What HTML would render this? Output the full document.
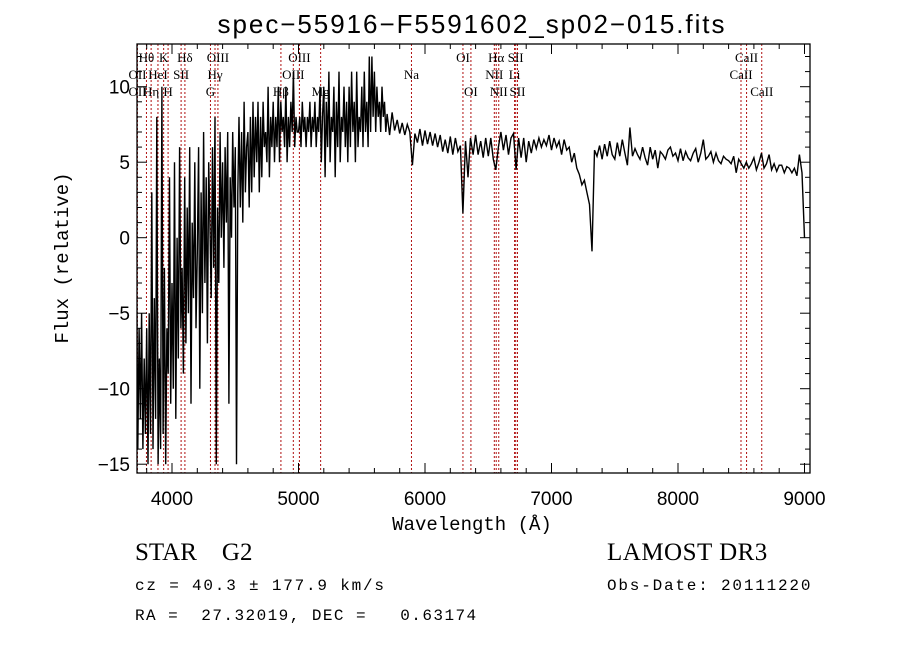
<!DOCTYPE html>
<html><head><meta charset="utf-8"><style>
html,body{margin:0;padding:0;background:#fff;width:900px;height:649px;overflow:hidden}
svg{display:block}
</style></head><body>
<svg id="chart" width="900" height="649" viewBox="0 0 900 649" xmlns="http://www.w3.org/2000/svg">
<defs><clipPath id="pc"><rect x="137" y="44" width="673" height="429"/></clipPath></defs>
<rect width="900" height="649" fill="#fff"/>
<text x="472" y="33" font-family="Liberation Sans, sans-serif" font-size="26" letter-spacing="1.95" text-anchor="middle">spec−55916−F5591602_sp02−015.fits</text>
<g id="lines" clip-path="url(#pc)"></g>
<g id="labels" font-family="Liberation Serif, serif" font-size="13" text-anchor="middle"></g>
<polyline id="spec" clip-path="url(#pc)" fill="none" stroke="#000" stroke-width="1.4"/>
<g id="axes"></g>
<text x="472" y="530" font-family="Liberation Mono, monospace" font-size="19" text-anchor="middle">Wavelength (Å)</text>
<text transform="translate(68,258) rotate(-90)" font-family="Liberation Mono, monospace" font-size="19" text-anchor="middle">Flux (relative)</text>
<text x="135" y="560" font-family="Liberation Serif, serif" font-size="25" xml:space="preserve">STAR    G2</text>
<text x="607" y="560" font-family="Liberation Serif, serif" font-size="25" letter-spacing="0.5">LAMOST DR3</text>
<text x="135" y="590" font-family="Liberation Mono, monospace" font-size="16" letter-spacing="1.8" xml:space="preserve">cz = 40.3 ± 177.9 km/s</text>
<text x="607" y="590" font-family="Liberation Mono, monospace" font-size="16" letter-spacing="1.8">Obs-Date: 20111220</text>
<text x="135" y="620" font-family="Liberation Mono, monospace" font-size="16" letter-spacing="1.45" xml:space="preserve">RA =  27.32019, DEC =   0.63174</text>
</svg>
<script>
const blueStart = 3700, blueStep = 10;
const blueFlux = [-4,-13,-2,-14,-6,-12,-5,-14,-8,-13,
-6,-15,-5,-13,3,-14,-4,-12,8,-15,
-8,-14,10,-13,-2,-15,-6,-9,4,-11,
-3,-10,5,-12,0,-8,6,-6,-2,-9,
4,-7,2,-5,6,-11,1,-4,5,-6,
-1,6,-10,3,-5,7,-3,4,-7,5,
1,-4,6,-2,8,-15,2,-3,7,0,
5,-2,6,1,7,-11,4,0,7,2,
6,-15,3,8,2,7,1,9,3,6,
7,2,8,3,9,4,8,5,9,3,
8,4,9,6,7,5,10,4,8,6,
9,5,8,6,10,5,9,7,8,6,
10,5,8,6,9,7,11,6,8,7,
7,8,6,9,7,8,6,8,7,9,
6,8,7,9,6,8,7,10,5,8,
10,4,9,6,11,5,8,7,10,4,
9,6,11,5,8,7,10,6,9,5,
10,6,11,7,9,5,11,6,8,7,
10,6,11,7,9,6,12,7,12,8,
11,7,10,8,9,7,10,8,9,7];
const redStart = 5700, redStep = 20;
const redFlux = [8.2,6.8,8.3,7.1,7.8,6.9,7.6,6.8,7.5,7.0,
4.8,6.9,6.3,7.2,6.1,7.1,6.2,7.0,6.1,6.9,
6.0,6.8,5.7,6.5,5.6,6.7,5.5,6.6,5.7,6.1,
1.6,6.4,4.0,6.6,5.5,6.8,5.5,6.4,5.3,6.6,
5.4,6.6,5.2,4.5,6.0,7.0,5.8,6.8,5.5,6.6,
6.9,4.5,6.6,5.3,6.6,5.0,6.4,5.6,6.5,5.9,
6.6,6.0,6.5,6.1,6.8,5.8,6.6,6.0,6.4,5.5,
6.5,5.8,6.0,5.0,5.6,4.6,4.2,3.5,3.8,3.0,
2.2,-0.9,5.8,5.4,6.1,5.2,6.2,5.4,6.4,5.5,
5.2,6.3,5.4,6.5,5.6,4.8,7.3,5.4,5.9,5.5,
5.2,6.0,5.3,4.8,6.0,5.2,5.8,4.6,5.7,5.5,
5.2,5.8,6.0,5.4,5.6,5.1,5.9,5.1,5.7,5.3,
5.1,5.6,5.9,5.0,5.6,6.5,5.2,5.4,5.7,5.0,
5.6,5.1,4.9,5.4,5.2,5.1,4.9,5.4,4.3,5.2,
4.9,4.6,5.0,4.6,4.9,5.3,4.5,5.0,5.6,4.6,
4.9,5.5,4.5,4.9,4.4,4.8,4.8,4.3,4.7,4.6,
4.3,4.6,4.1,5.5,4.3,0];
const lineWaves = [3727,3798,3835,3889,3934,3969,4072,4102,4304,4340,4363,4861,4959,5007,5175,5893,6300,6363,6548,6563,6583,6708,6717,6731,8498,8542,8662];
const labelNames = ["Hθ","K","Hδ","OIII","OIII","OI","Hα","SII","CaII",
"OII","HeI","SII","Hγ","OIII","Na","NII","Li","CaII",
"OII","Hη","H","G","Hβ","Mg","OI","NII","SII","CaII"];
const labelWaves = [3798,3934,4102,4363,5007,6300,6563,6717,8542,
3727,3889,4072,4340,4959,5893,6548,6708,8498,
3727,3835,3969,4304,4861,5175,6363,6583,6731,8662];
const labelRows = [0,0,0,0,0,0,0,0,0,1,1,1,1,1,1,1,1,1,2,2,2,2,2,2,2,2,2,2];
const xTicks = [4000,5000,6000,7000,8000,9000];
const yTicks = [-15,-10,-5,0,5,10];

const X0=137,X1=810,Y0=44,Y1=473;
const xs = w => 172 + (w-4000)*0.1265;
const ys = f => 237.7 - f*15.1;
const NS="http://www.w3.org/2000/svg";
function mk(tag, attrs, parent){const e=document.createElementNS(NS,tag);for(const k in attrs)e.setAttribute(k,attrs[k]);parent.appendChild(e);return e;}

const pts=[];
blueFlux.forEach((f,i)=>{const w=blueStart+i*blueStep;if(w<redStart)pts.push(xs(w).toFixed(1)+","+ys(f).toFixed(1));});
redFlux.forEach((f,i)=>{pts.push(xs(redStart+i*redStep).toFixed(1)+","+ys(f).toFixed(1));});
document.getElementById('spec').setAttribute('points',pts.join(' '));

const lg=document.getElementById('lines');
lineWaves.forEach(w=>{
  const l=mk('line',{x1:xs(w),x2:xs(w),y1:Y0,y2:Y1,stroke:'#b01010','stroke-width':1,'stroke-dasharray':'2,2'},lg);
  
  
});
const lb=document.getElementById('labels');
labelNames.forEach((n,i)=>{
  const t=mk('text',{x:xs(labelWaves[i]),y:62+labelRows[i]*17},lb);
  t.textContent=n;
  
  
});

const ax=document.getElementById('axes');
mk('rect',{x:X0,y:Y0,width:X1-X0,height:Y1-Y0,fill:'none',stroke:'#000','stroke-width':1.3},ax);
for(let w=3800;w<=9000;w+=200){
  const x=xs(w);if(x<X0||x>X1)continue;
  const len=(w%1000===0)?10:5;
  mk('line',{x1:x,x2:x,y1:Y1,y2:Y1-len,stroke:'#000'},ax);
  mk('line',{x1:x,x2:x,y1:Y0,y2:Y0+len,stroke:'#000'},ax);
}
for(let v=-15;v<=12;v+=1){
  const y=ys(v);if(y<Y0||y>Y1)continue;
  const len=(v%5===0)?10:5;
  mk('line',{x1:X0,x2:X0+len,y1:y,y2:y,stroke:'#000'},ax);
  mk('line',{x1:X1,x2:X1-len,y1:y,y2:y,stroke:'#000'},ax);
}
xTicks.forEach(w=>{
  const t=mk('text',{x:xs(w),y:505,'font-family':'Liberation Sans, sans-serif','font-size':19,'text-anchor':'middle'},ax);
  t.textContent=String(w);
  
  
});
yTicks.forEach(v=>{
  const t=mk('text',{x:130,y:ys(v)+7,'font-family':'Liberation Sans, sans-serif','font-size':19,'text-anchor':'end'},ax);
  t.textContent=String(v).replace('-','−');
  
  
});
</script>
</body></html>
